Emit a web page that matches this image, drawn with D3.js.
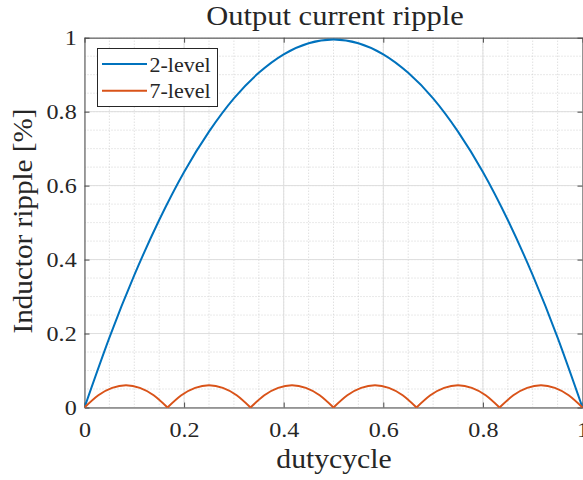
<!DOCTYPE html>
<html>
<head>
<meta charset="utf-8">
<script src="https://cdn.jsdelivr.net/npm/d3@7"></script>
<style>
  html, body { margin: 0; padding: 0; background: #fff; }
  svg { display: block; }
  text { font-family: "Liberation Serif", "DejaVu Serif", serif; fill: #262626; }
</style>
</head>
<body>
<svg id="chart" width="583" height="480"></svg>
<script>
// ---- data ----
const dutyCycle2 = [0, 0.05, 0.1, 0.15, 0.2, 0.25, 0.3, 0.35, 0.4, 0.45, 0.5,
                    0.55, 0.6, 0.65, 0.7, 0.75, 0.8, 0.85, 0.9, 0.95, 1];
const ripple2 = [0, 0.189, 0.358, 0.507, 0.637, 0.746, 0.836, 0.905, 0.955, 0.985, 0.995,
                 0.985, 0.955, 0.905, 0.836, 0.746, 0.637, 0.507, 0.358, 0.189, 0];
const dutyCycle7 = d3.range(37).map(i => i / 36);
const ripple7 = [0, 0.033, 0.053, 0.06, 0.053, 0.033,
                 0, 0.033, 0.053, 0.06, 0.053, 0.033,
                 0, 0.033, 0.053, 0.06, 0.053, 0.033,
                 0, 0.033, 0.053, 0.06, 0.053, 0.033,
                 0, 0.033, 0.053, 0.06, 0.053, 0.033,
                 0, 0.033, 0.053, 0.06, 0.053, 0.033, 0];
const seriesNames = ["2-level", "7-level"];
const seriesColors = ["#0072BD", "#D95319"];
const xTicks = [0, 0.2, 0.4, 0.6, 0.8, 1];
const yTicks = [0, 0.2, 0.4, 0.6, 0.8, 1];
const xTickLabels = ["0", "0.2", "0.4", "0.6", "0.8", "1"];
const yTickLabels = ["0", "0.2", "0.4", "0.6", "0.8", "1"];
const minorTicks = d3.range(0, 1.0001, 0.05);

// ---- layout ----
const svg = d3.select("#chart");
const L = 84.5, R = 582.5, T = 37.7, B = 407.5;
const x = d3.scaleLinear().domain([0, 1]).range([L, R]);
const y = d3.scaleLinear().domain([0, 1]).range([B, T]);

// grid
const grid = svg.append("g");
grid.selectAll("line.minx").data(minorTicks).join("line")
  .attr("x1", d => x(d)).attr("x2", d => x(d)).attr("y1", T).attr("y2", B)
  .attr("stroke", "#c8c8c8").attr("stroke-width", 0.8).attr("stroke-dasharray", "1,2");
grid.selectAll("line.miny").data(minorTicks).join("line")
  .attr("y1", d => y(d)).attr("y2", d => y(d)).attr("x1", L).attr("x2", R)
  .attr("stroke", "#c8c8c8").attr("stroke-width", 0.8).attr("stroke-dasharray", "1,2");
grid.selectAll("line.majx").data(xTicks).join("line")
  .attr("x1", d => x(d)).attr("x2", d => x(d)).attr("y1", T).attr("y2", B)
  .attr("stroke", "#dedede").attr("stroke-width", 1);
grid.selectAll("line.majy").data(yTicks).join("line")
  .attr("y1", d => y(d)).attr("y2", d => y(d)).attr("x1", L).attr("x2", R)
  .attr("stroke", "#dedede").attr("stroke-width", 1);

// axes
const axisColor = "#4a4a4a";
const tickLen = 5;
const xb = svg.append("g").attr("transform", `translate(0,${B})`)
  .call(d3.axisBottom(x).tickValues(xTicks).tickFormat((d, i) => xTickLabels[i]).tickSizeInner(-tickLen).tickSizeOuter(0).tickPadding(14));
const xt = svg.append("g").attr("transform", `translate(0,${T})`)
  .call(d3.axisTop(x).tickValues(xTicks).tickFormat("").tickSizeInner(-tickLen).tickSizeOuter(0));
const yl = svg.append("g").attr("transform", `translate(${L},0)`)
  .call(d3.axisLeft(y).tickValues(yTicks).tickFormat((d, i) => yTickLabels[i]).tickSizeInner(-tickLen).tickSizeOuter(0).tickPadding(7));
const yr = svg.append("g").attr("transform", `translate(${R},0)`)
  .call(d3.axisRight(y).tickValues(yTicks).tickFormat("").tickSizeInner(-tickLen).tickSizeOuter(0));
[xb, xt, yl, yr].forEach(g => {
  g.attr("font-family", null);
  g.selectAll("path.domain").attr("stroke", axisColor).attr("stroke-width", 1);
  g.selectAll(".tick line").attr("stroke", axisColor).attr("stroke-width", 1);
  g.selectAll(".tick text").style("font-family", '"Liberation Serif", serif').attr("fill", "#262626")
    .style("font-size", "21.5px").attr("transform", "scale(1.12,1)");
});

// lines
const clip = svg.append("clipPath").attr("id", "clip").append("rect")
  .attr("x", L).attr("y", T - 3).attr("width", R - L + 2).attr("height", B - T + 6);
const plot = svg.append("g").attr("clip-path", "url(#clip)");
const line = d3.line().x(d => x(d[0])).y(d => y(d[1])).curve(d3.curveNatural);

const pts2 = dutyCycle2.map((d, i) => [d, ripple2[i]]);
plot.append("path").datum(pts2).attr("d", line)
  .attr("fill", "none").attr("stroke", seriesColors[0]).attr("stroke-width", 2);

// split 7-level into arches at zeros
const pts7 = dutyCycle7.map((d, i) => [d, ripple7[i]]);
const arches = [];
let cur = [];
pts7.forEach((p) => {
  cur.push(p);
  if (p[1] === 0 && cur.length > 1) { arches.push(cur); cur = [p]; }
});
plot.selectAll("path.arch").data(arches).join("path")
  .attr("d", line).attr("fill", "none").attr("stroke", seriesColors[1]).attr("stroke-width", 2);

// title and labels
svg.append("text").attr("transform", "translate(335,24.5) scale(1.13,1)").attr("text-anchor", "middle")
  .style("font-size", "27px").text("Output current ripple");
svg.append("text").attr("transform", "translate(334,468) scale(1.1,1)").attr("text-anchor", "middle")
  .style("font-size", "27px").text("dutycycle");
svg.append("text").attr("transform", `translate(32,221) rotate(-90) scale(1.08,1)`).attr("text-anchor", "middle")
  .style("font-size", "27px").text("Inductor ripple [%]");

// legend
const lg = svg.append("g");
lg.append("rect").attr("x", 97.5).attr("y", 48.5).attr("width", 120).attr("height", 58)
  .attr("fill", "#fff").attr("stroke", "#262626").attr("stroke-width", 1);
seriesNames.forEach((name, i) => {
  const yy = 64 + i * 26.7;
  lg.append("line").attr("x1", 102).attr("x2", 147).attr("y1", yy).attr("y2", yy)
    .attr("stroke", seriesColors[i]).attr("stroke-width", 2);
  lg.append("text").attr("x", 149.5).attr("y", yy + 7.5).style("font-size", "22px").text(name);
});
</script>
</body>
</html>
